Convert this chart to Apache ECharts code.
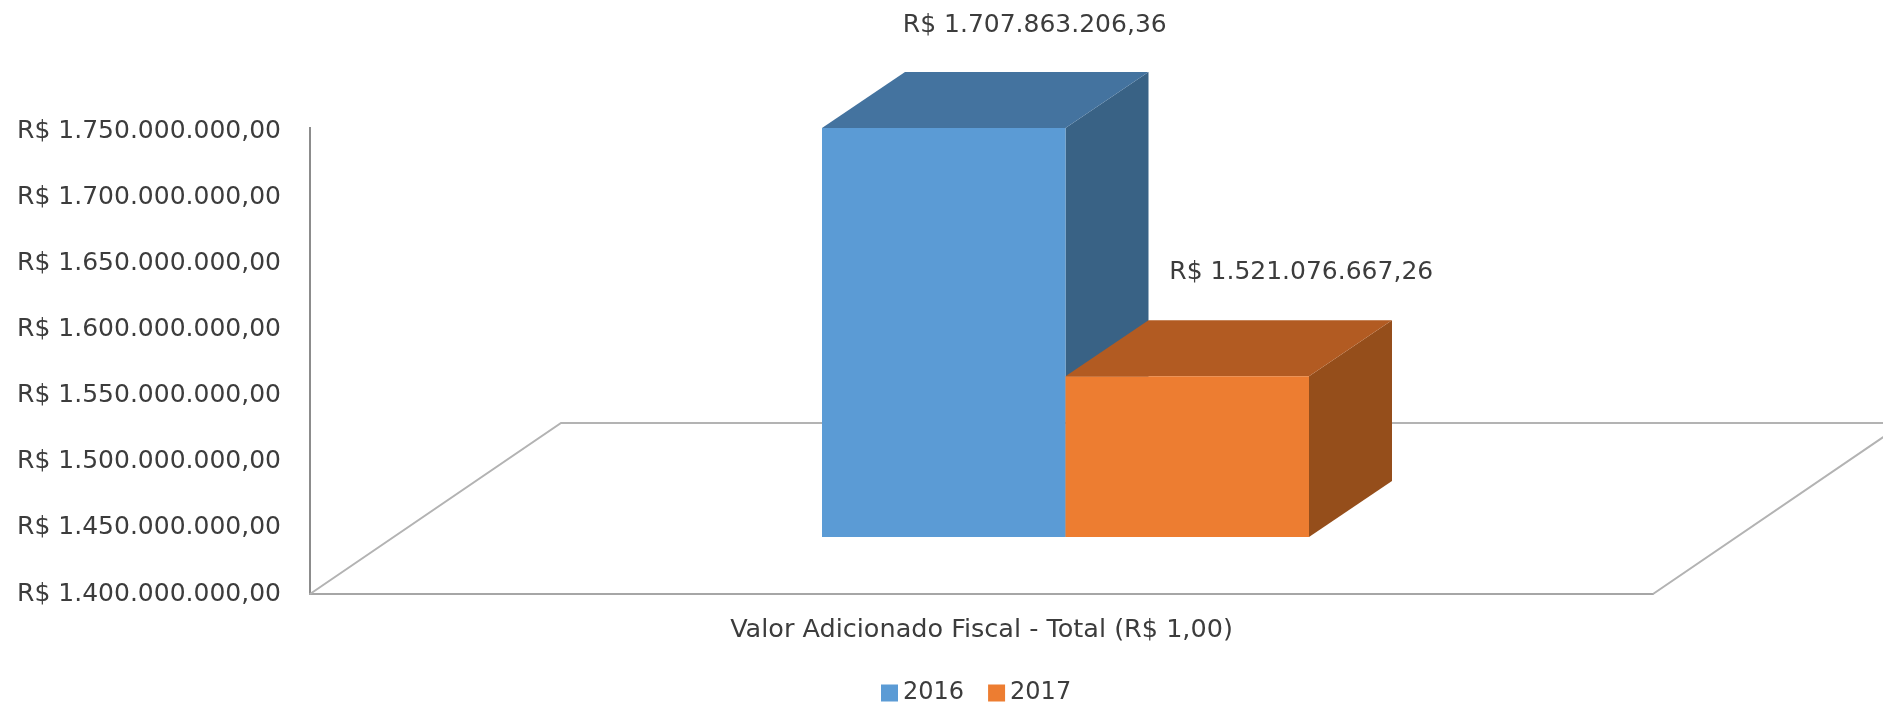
<!DOCTYPE html>
<html>
<head>
<meta charset="utf-8">
<title>Valor Adicionado Fiscal</title>
<script src="https://cdn.jsdelivr.net/npm/echarts@6/dist/echarts.min.js"></script>
<style>
  html, body { margin: 0; padding: 0; background: #fff; }
  #chart { width: 1883px; height: 703px; }
</style>
</head>
<body>
<div id="chart"></div>
<script>
var categories = ["Valor Adicionado Fiscal - Total (R$ 1,00)"];
var years = ["2016", "2017"];
var values2016 = [1707863206.36];
var values2017 = [1521076667.26];
var axisMin = 1400000000;
var axisMax = 1750000000;
var axisStep = 50000000;

var fontName = "DejaVu Sans";
var textColor = "#3c3c3c";
var depth = [83, -56]; // bar depth in px
var floorDepth = [251, -171];

function money(v) {
  return "R$ " + v.toLocaleString("pt-BR", { minimumFractionDigits: 2, maximumFractionDigits: 2 });
}

// one 3d bar: slot 0 is the left half of the band, slot 1 the right half
function barRenderer(slot, front, top, side, labelDx, labelDy) {
  return function (params, api) {
    var band = api.size([1, 0])[0];
    var center = api.coord([api.value(0), axisMin])[0];
    var x0 = center - band / 2 + (slot * band) / 2;
    var x1 = x0 + band / 2;
    var yTop = api.coord([api.value(0), api.value(1)])[1];
    var yBase = api.coord([api.value(0), axisMin])[1];
    var dx = depth[0];
    var dy = depth[1];
    return {
      type: "group",
      children: [
        {
          type: "polygon",
          shape: { points: [[x1, yTop], [x1 + dx, yTop + dy], [x1 + dx, yBase + dy], [x1, yBase]] },
          style: { fill: side },
        },
        {
          type: "polygon",
          shape: { points: [[x0, yTop], [x0 + dx, yTop + dy], [x1 + dx, yTop + dy], [x1, yTop]] },
          style: { fill: top },
        },
        {
          type: "rect",
          shape: { x: x0, y: yTop, width: x1 - x0, height: yBase - yTop },
          style: { fill: front },
        },
        {
          type: "text",
          x: (x0 + x1) / 2 + labelDx,
          y: yTop + labelDy,
          style: {
            text: money(api.value(1)),
            fill: textColor,
            font: "25px '" + fontName + "'",
            align: "center",
            verticalAlign: "middle",
          },
        },
      ],
    };
  };
}

function floorRenderer(params, api) {
  var band = api.size([1, 0])[0];
  var p = api.coord([0, axisMin]);
  var yMax = api.coord([0, axisMax])[1];
  var xl = p[0] - band / 2;
  var xr = p[0] + band / 2;
  return {
    type: "group",
    children: [
      {
        // the wall line runs a little past the top tick
        type: "line",
        shape: { x1: xl, y1: yMax - 4, x2: xl, y2: yMax + 1 },
        style: { stroke: "#8c8c8c", lineWidth: 2 },
      },
      {
        type: "polyline",
        shape: {
          points: [
            [xl, p[1]],
            [xl + floorDepth[0], p[1] + floorDepth[1]],
            [xr + floorDepth[0], p[1] + floorDepth[1]],
            [xr, p[1]],
          ],
        },
        style: { fill: "none", stroke: "#b3b3b3", lineWidth: 2 },
      },
    ],
  };
}

var chart = echarts.init(document.getElementById("chart"));
chart.setOption({
  backgroundColor: "#fff",
  animation: false,
  textStyle: { fontFamily: fontName },
  legend: {
    data: years,
    left: 876,
    top: 676,
    itemWidth: 17,
    itemHeight: 17,
    itemGap: 24,
    icon: "rect",
    textStyle: { color: textColor, fontSize: 24, fontFamily: fontName },
  },
  grid: [
    { left: 310, right: 230, top: 131, bottom: 109 },
    { left: 822, right: 574, top: 72, bottom: 166 },
  ],
  xAxis: [
    {
      type: "category",
      gridIndex: 0,
      data: categories,
      axisLine: { lineStyle: { color: "#a6a6a6", width: 2 } },
      axisTick: { show: false },
      axisLabel: { color: textColor, fontSize: 25.5, margin: 23, fontFamily: fontName },
    },
    { type: "category", gridIndex: 1, data: categories, show: false },
  ],
  yAxis: [
    {
      type: "value",
      gridIndex: 0,
      min: axisMin,
      max: axisMax,
      interval: axisStep,
      axisLine: { show: true, lineStyle: { color: "#8c8c8c", width: 2 } },
      axisTick: { show: false },
      splitLine: { show: false },
      axisLabel: {
        color: textColor,
        fontSize: 25,
        margin: 29,
        padding: [2, 0, 0, 0],
        fontFamily: fontName,
        formatter: function (v) {
          return money(v);
        },
      },
    },
    { type: "value", gridIndex: 1, min: axisMin, max: axisMax, show: false },
  ],
  series: [
    {
      type: "custom",
      name: "piso",
      xAxisIndex: 0,
      yAxisIndex: 0,
      silent: true,
      z: 1,
      data: [[0, axisMin]],
      renderItem: floorRenderer,
    },
    {
      type: "custom",
      name: years[0],
      xAxisIndex: 1,
      yAxisIndex: 1,
      z: 2,
      itemStyle: { color: "#5b9bd5" },
      data: values2016.map(function (v, i) { return [i, v]; }),
      renderItem: barRenderer(0, "#5b9bd5", "#44739f", "#396285", 91, -102),
    },
    {
      type: "custom",
      name: years[1],
      xAxisIndex: 1,
      yAxisIndex: 1,
      z: 3,
      itemStyle: { color: "#ed7d31" },
      data: values2017.map(function (v, i) { return [i, v]; }),
      renderItem: barRenderer(1, "#ed7d31", "#b25b22", "#954e1b", 114, -104),
    },
  ],
});
window.onresize = function () {
  chart.resize();
};
</script>
</body>
</html>
